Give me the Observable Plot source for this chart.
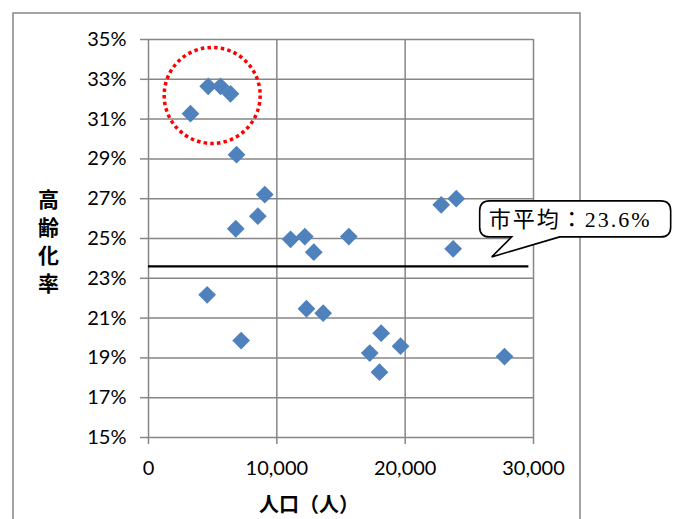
<!DOCTYPE html>
<html>
<head>
<meta charset="utf-8">
<script src="https://cdn.jsdelivr.net/npm/d3@7"></script>
<script src="https://cdn.jsdelivr.net/npm/@observablehq/plot@0.6"></script>
<style>
  html, body { margin: 0; padding: 0; background: #fff; }
</style>
</head>
<body>
<div id="chart"></div>
<script>
// population (人) and aging rate (%) per district
const population = [3270, 4650, 5610, 6390, 6860, 9060, 8520, 6800, 11070, 12180, 12880, 15610,
  22810, 23980, 23740, 4570, 12310, 13610, 7220, 18130, 19640, 17240, 18000, 27740];
const agingRate = [31.27, 32.65, 32.65, 32.27, 29.21, 27.21, 26.12, 25.49, 24.96, 25.10, 24.31, 25.10,
  26.69, 27.00, 24.48, 22.17, 21.47, 21.25, 19.87, 20.24, 19.59, 19.24, 18.28, 19.07];

const xTicks = [0, 10000, 20000, 30000];
const yTicks = [15, 17, 19, 21, 23, 25, 27, 29, 31, 33, 35];

const cityAverage = 23.6;
const averageLineX = [0, 29640];
const averageLabel = "市平均：23.6%";
const highlightCenter = [{x: 4960, y: 32.19}];
const yLabelChars = ["高", "齢", "化", "率"];
const xLabel = "人口（人）";

const points = population.map((p, i) => ({population: p, rate: agingRate[i]}));
const gridColor = "#868686";
const labelFont = "'Noto Sans CJK JP', sans-serif";

const chart = Plot.plot({
  width: 679,
  height: 519,
  marginLeft: 148,
  marginRight: 146,
  marginTop: 39,
  marginBottom: 82,
  style: {fontFamily: "Lato, 'Noto Sans', sans-serif", fontSize: "20px", color: "#000", background: "#fff", overflow: "visible"},
  x: {domain: [0, 30000]},
  y: {domain: [15, 35]},
  marks: [
    Plot.gridY(yTicks, {stroke: gridColor, strokeOpacity: 1, strokeWidth: 1.5}),
    Plot.gridX(xTicks, {stroke: gridColor, strokeOpacity: 1, strokeWidth: 1.5}),
    Plot.axisY(yTicks, {tickFormat: d => d + "%", tickSize: 8, tickPadding: 14, stroke: gridColor, strokeWidth: 1.5, label: null, fontSize: 20}),
    Plot.axisX(xTicks, {tickFormat: d3.format(","), tickSize: 7, tickPadding: 16, stroke: gridColor, strokeWidth: 1.5, label: null, fontSize: 20}),
    Plot.ruleY([cityAverage], {x1: averageLineX[0], x2: averageLineX[1], stroke: "#000", strokeWidth: 2.2}),
    Plot.dot(points, {x: "population", y: "rate", symbol: "diamond2", r: 8, fill: "#4F81BD", stroke: "none"}),
    Plot.dot(highlightCenter, {x: "x", y: "y", r: 48, fill: "none", stroke: "#FF0000", strokeWidth: 3.5, strokeDasharray: "3.5,3.2"}),
    ...yLabelChars.map((c, i) => Plot.text([c], {frameAnchor: "left", dx: -100, dy: -38 + i * 28, fontSize: 21, fontWeight: "bold", fontFamily: labelFont, textAnchor: "middle", lineAnchor: "middle"})),
    Plot.text([xLabel], {frameAnchor: "bottom", dx: -32, dy: 68, lineAnchor: "middle", fontSize: 20, fontWeight: "bold", fontFamily: labelFont})
  ]
});

const svg = d3.select(chart);
// outer chart border
svg.insert("rect", ":first-child")
  .attr("x", 13).attr("y", 13).attr("width", 567).attr("height", 600)
  .attr("fill", "none").attr("stroke", gridColor).attr("stroke-width", 1.5);

// callout for the city average
const sx = chart.scale("x"), sy = chart.scale("y");
const tipX = sx.apply(26780), tipY = sy.apply(24.05);
const L = tipX - 12, R = tipX + 179, T = tipY - 56, B = tipY - 20, rr = 10;
const a1 = tipX + 20, a2 = tipX + 68;
const path = `M${L + rr},${T} H${R - rr} Q${R},${T} ${R},${T + rr} V${B - rr} Q${R},${B} ${R - rr},${B}
  H${a2} L${tipX},${tipY} L${a1},${B} H${L + rr} Q${L},${B} ${L},${B - rr} V${T + rr} Q${L},${T} ${L + rr},${T} Z`;
const g = svg.append("g");
g.append("path").attr("d", path).attr("fill", "#fff").attr("stroke", "#000").attr("stroke-width", 1.6);
g.append("text")
  .attr("x", L + 9).attr("y", (T + B) / 2 + 1)
  .attr("text-anchor", "start")
  .attr("dominant-baseline", "central")
  .attr("font-family", "'Liberation Serif', 'DejaVu Serif', 'Noto Sans CJK JP', serif")
  .attr("font-size", 22)
  .attr("letter-spacing", 2)
  .attr("fill", "#000")
  .text(averageLabel);

document.getElementById("chart").appendChild(chart);
</script>
</body>
</html>
